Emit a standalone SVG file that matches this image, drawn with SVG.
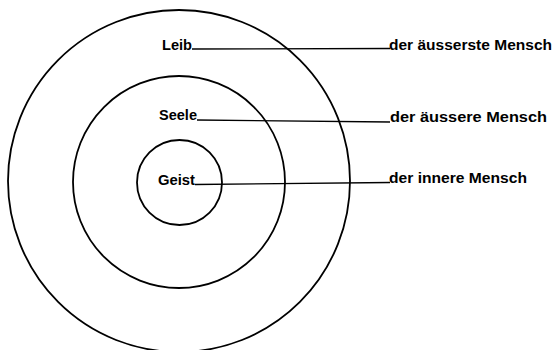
<svg xmlns="http://www.w3.org/2000/svg" width="554" height="350" viewBox="0 0 554 350">
<style>
.ring{fill:none;stroke:#000;stroke-width:1.8}
.lead{fill:none;stroke:#000;stroke-width:1.3}
text{font-family:"Liberation Sans",Arial,sans-serif;font-size:15px;font-weight:bold;fill:#000}
</style>
<rect width="554" height="350" fill="#fff"/>
<g id="outer-ring"><circle class="ring" cx="179" cy="181" r="171"/><text x="162" y="50" textLength="30" lengthAdjust="spacingAndGlyphs">Leib</text></g>
<g id="middle-ring"><circle class="ring" cx="179" cy="182" r="106"/><text x="159" y="119.5" textLength="38" lengthAdjust="spacingAndGlyphs">Seele</text></g>
<g id="inner-ring"><circle class="ring" cx="179.5" cy="182.5" r="42.5"/><text x="158" y="185" textLength="37" lengthAdjust="spacingAndGlyphs">Geist</text></g>
<g id="label-outer"><text x="389" y="50" textLength="163" lengthAdjust="spacingAndGlyphs">der äusserste Mensch</text></g>
<g id="label-middle"><text x="390" y="122" textLength="157" lengthAdjust="spacingAndGlyphs">der äussere Mensch</text></g>
<g id="label-inner"><text x="389" y="183" textLength="138" lengthAdjust="spacingAndGlyphs">der innere Mensch</text></g>
<g id="connectors">
<path class="lead" d="M192 49 L390 48.5"/>
<path class="lead" d="M197 120 L390 122"/>
<path class="lead" d="M195 184.5 L390 182.5"/>
</g>
</svg>
